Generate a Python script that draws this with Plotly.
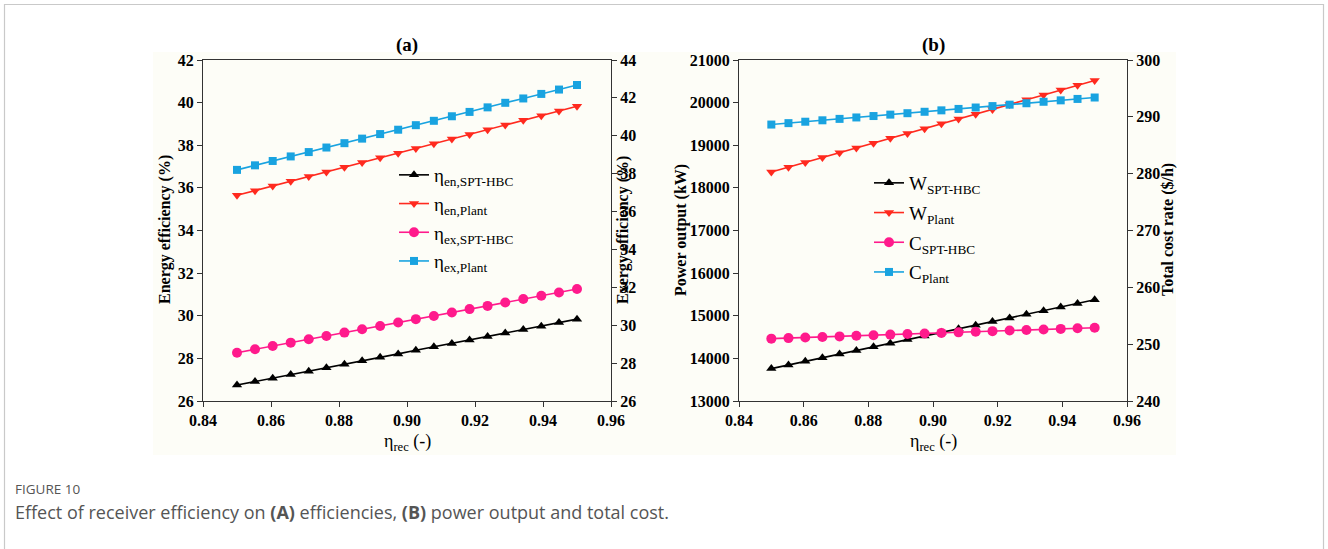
import plotly.graph_objects as go

W, H = 1328, 549

# ---------------- data ----------------
eta_rec = [0.8500, 0.8553, 0.8605, 0.8658, 0.8711, 0.8763, 0.8816, 0.8868, 0.8921, 0.8974,
           0.9026, 0.9079, 0.9132, 0.9184, 0.9237, 0.9289, 0.9342, 0.9395, 0.9447, 0.9500]

# panel (a)
eta_en_spt = [26.75, 26.91, 27.07, 27.24, 27.40, 27.56, 27.73, 27.89, 28.05, 28.21,
              28.38, 28.54, 28.70, 28.86, 29.03, 29.19, 29.35, 29.51, 29.68, 29.84]
eta_en_plant = [35.65, 35.87, 36.09, 36.31, 36.53, 36.75, 36.97, 37.19, 37.41, 37.63,
                37.85, 38.07, 38.29, 38.51, 38.73, 38.95, 39.17, 39.39, 39.61, 39.83]
eta_ex_spt = [28.55, 28.73, 28.90, 29.08, 29.26, 29.43, 29.61, 29.79, 29.96, 30.14,
              30.32, 30.49, 30.67, 30.85, 31.02, 31.20, 31.38, 31.56, 31.73, 31.91]
eta_ex_plant = [38.20, 38.44, 38.67, 38.91, 39.14, 39.38, 39.61, 39.85, 40.09, 40.32,
                40.56, 40.79, 41.03, 41.26, 41.50, 41.74, 41.97, 42.21, 42.44, 42.68]

# panel (b)
w_spt = [13760, 13845, 13930, 14015, 14100, 14185, 14270, 14355, 14440, 14525,
         14610, 14695, 14780, 14865, 14950, 15035, 15120, 15205, 15290, 15375]
w_plant = [18370, 18483, 18596, 18710, 18823, 18936, 19049, 19162, 19275, 19389,
           19502, 19615, 19728, 19841, 19954, 20068, 20181, 20294, 20407, 20520]
c_spt = [250.97, 251.07, 251.17, 251.27, 251.37, 251.47, 251.57, 251.68, 251.78, 251.88,
         251.98, 252.08, 252.19, 252.29, 252.39, 252.49, 252.59, 252.69, 252.80, 252.90]
c_plant = [288.64, 288.89, 289.14, 289.39, 289.64, 289.89, 290.14, 290.39, 290.64, 290.89,
           291.14, 291.39, 291.64, 291.89, 292.14, 292.39, 292.65, 292.90, 293.15, 293.40]

x_ticks = [0.84, 0.86, 0.88, 0.90, 0.92, 0.94, 0.96]

# ---------------- style ----------------
SERIF = "Liberation Serif"
C_BLACK = "#000000"
C_RED = "#ff2a1f"
C_PINK = "#ff1a8c"
C_CYAN = "#19a3e0"
BG = "#fdfdf7"


def px(x):
    return x / W


def py(y):
    return 1 - y / H


fig = go.Figure()


def add(x, y, name, color, symbol, size, xa, ya, legend):
    fig.add_trace(go.Scatter(
        x=x, y=y, name=name, mode="lines+markers",
        line=dict(color=color, width=1.6),
        marker=dict(symbol=symbol, size=size, color=color),
        xaxis=xa, yaxis=ya, legend=legend, legendgroup=name,
    ))


add(eta_rec, eta_en_spt, "η<sub>en,SPT-HBC</sub>", C_BLACK, "triangle-up", 9, "x", "y", "legend")
add(eta_rec, eta_en_plant, "η<sub>en,Plant</sub>", C_RED, "triangle-down", 9, "x", "y", "legend")
add(eta_rec, eta_ex_spt, "η<sub>ex,SPT-HBC</sub>", C_PINK, "circle", 10, "x", "y2", "legend")
add(eta_rec, eta_ex_plant, "η<sub>ex,Plant</sub>", C_CYAN, "square", 8, "x", "y2", "legend")

add(eta_rec, w_spt, "W<sub>SPT-HBC</sub>", C_BLACK, "triangle-up", 9, "x2", "y3", "legend2")
add(eta_rec, w_plant, "W<sub>Plant</sub>", C_RED, "triangle-down", 9, "x2", "y3", "legend2")
add(eta_rec, c_spt, "C<sub>SPT-HBC</sub>", C_PINK, "circle", 10, "x2", "y4", "legend2")
add(eta_rec, c_plant, "C<sub>Plant</sub>", C_CYAN, "square", 8, "x2", "y4", "legend2")

tickfont = dict(family=SERIF, size=16, color="black", weight="bold")
ydom = [py(401), py(60)]
xdom_a = [px(203), px(611)]
xdom_b = [px(739), px(1127)]

xcommon = dict(range=[0.84, 0.96], tickvals=x_ticks, ticktext=[f"{v:.2f}" for v in x_ticks],
               showline=True, linecolor="#333", linewidth=1.2, mirror=True, automargin=False,
               ticks="outside", ticklen=5, tickcolor="#333", showgrid=False, zeroline=False,
               tickfont=tickfont)
ycommon = dict(showline=True, linecolor="#333", linewidth=1.2, ticks="outside", ticklen=5,
               tickcolor="#333", showgrid=False, zeroline=False, tickfont=tickfont,
               automargin=False, tickformat="d")

fig.update_layout(
    width=W, height=H,
    margin=dict(l=0, r=0, t=0, b=0, pad=0, autoexpand=False),
    paper_bgcolor="white",
    plot_bgcolor=BG,
    showlegend=True,
    xaxis=dict(domain=xdom_a, anchor="y", **xcommon),
    yaxis=dict(domain=ydom, anchor="x", range=[26, 42], dtick=2, **ycommon),
    yaxis2=dict(domain=ydom, anchor="x", overlaying="y", side="right", range=[26, 44], dtick=2, **ycommon),
    xaxis2=dict(domain=xdom_b, anchor="y3", **xcommon),
    yaxis3=dict(domain=ydom, anchor="x2", range=[13000, 21000], dtick=1000, **ycommon),
    yaxis4=dict(domain=ydom, anchor="x2", overlaying="y3", side="right", range=[240, 300], dtick=10, **ycommon),
    legend=dict(x=px(394), y=py(156), xanchor="left", yanchor="top", bgcolor="rgba(0,0,0,0)",
                font=dict(family=SERIF, size=19, color="black"), tracegroupgap=1),
    legend2=dict(x=px(869), y=py(164), xanchor="left", yanchor="top", bgcolor="rgba(0,0,0,0)",
                 font=dict(family=SERIF, size=19, color="black"), tracegroupgap=2),
)

# cream image area and outer frame
fig.add_shape(type="rect", xref="paper", yref="paper", x0=px(153), x1=px(1176), y0=py(455), y1=py(52),
              fillcolor=BG, line=dict(width=0), layer="below")
fig.add_shape(type="rect", xref="paper", yref="paper", x0=px(4.5), x1=px(1323.5), y0=py(600), y1=py(4.5),
              fillcolor="rgba(0,0,0,0)", line=dict(color="#c9c9c9", width=1.2), layer="below")

ann = []


def text(x, y, s, size, angle=0, bold=True, family=SERIF, color="black", xanchor="center"):
    ann.append(dict(x=px(x), y=py(y), xref="paper", yref="paper", text=s, showarrow=False,
                    textangle=angle, xanchor=xanchor, yanchor="middle",
                    font=dict(family=family, size=size, color=color, weight="bold" if bold else "normal")))


text(407, 45, "(a)", 19)
text(933, 45, "(b)", 19)
text(165, 230, "Energy efficiency (%)", 16, angle=-90)
text(623, 230, "Exergy efficiency (%)", 16, angle=-90)
text(681, 230, "Power output (kW)", 16, angle=-90)
text(1168, 230, "Total cost rate ($/h)", 16, angle=-90)
text(407, 442, "η<sub>rec</sub> (-)", 18, bold=False)
text(933, 442, "η<sub>rec</sub> (-)", 18, bold=False)

text(13, 489, "FIGURE 10", 13.5, bold=False, family="Open Sans", color="#555555", xanchor="left")
text(13, 512, "Effect of receiver efficiency on <b>(A)</b> efficiencies, <b>(B)</b> power output and total cost.",
     18, bold=False, family="Open Sans", color="#555555", xanchor="left")

fig.update_layout(annotations=ann)

fig.write_html(
    "out.html",
    config={"displayModeBar": False},
    post_script="document.body.style.margin='0';document.body.style.overflow='hidden';",
)
